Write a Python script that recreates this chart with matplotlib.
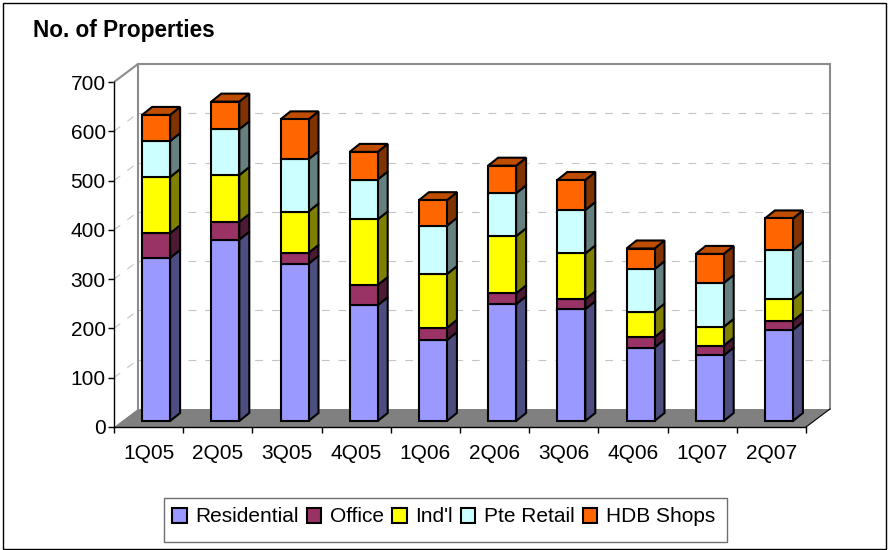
import matplotlib
matplotlib.use("Agg")
import matplotlib.pyplot as plt
from matplotlib.patches import Rectangle, Patch

plt.rcParams['font.family'] = ['Liberation Sans', 'DejaVu Sans']

quarters = ["1Q05", "2Q05", "3Q05", "4Q05", "1Q06", "2Q06", "3Q06", "4Q06", "1Q07", "2Q07"]
residential = [331, 368, 319, 235, 164, 237, 227, 149, 133, 185]
office = [50, 36, 22, 41, 25, 22, 20, 21, 20, 18]
industrial = [114, 95, 84, 133, 109, 116, 93, 52, 38, 44]
pte_retail = [73, 93, 106, 81, 98, 87, 88, 86, 89, 100]
hdb_shops = [53, 56, 81, 56, 52, 56, 61, 42, 59, 64]
series_names = ["Residential", "Office", "Ind'l", "Pte Retail", "HDB Shops"]
series_values = [residential, office, industrial, pte_retail, hdb_shops]
front_colors = ["#9999FF", "#993366", "#FFFF00", "#CCFFFF", "#FF6600"]
side_colors = ["#4D4D80", "#4D1A33", "#808000", "#668080", "#803300"]
top_colors = ["#7373BF", "#73264D", "#BFBF00", "#99BFBF", "#BF4D00"]
y_ticks = [0, 100, 200, 300, 400, 500, 600, 700]

W, H = 888, 550
fig = plt.figure(figsize=(W / 100, H / 100), dpi=100)
fig.add_artist(Rectangle((3 / W, 1 - 548.5 / H), 883 / W, 545.5 / H, transform=fig.transFigure,
                         fill=False, ec="black", lw=1.0))
fig.add_artist(Rectangle((164 / W, 1 - 541.5 / H), 563 / W, 43.5 / H, transform=fig.transFigure,
                         fill=False, ec="#707070", lw=1.0))

L, R, T, B = 114, 806, 82, 427
ax = fig.add_axes([L / W, 1 - B / H, (R - L) / W, (B - T) / H])
ax.set_xlim(0, len(quarters))
ax.set_ylim(0, 700)
ax.patch.set_visible(False)

px_x = (R - L) / len(quarters)      # pixels per category
px_y = (B - T) / 700                # pixels per value unit


def proj(cat, val, dx_px, dy_px):
    """Oblique projection: offset a data point by a depth given in pixels."""
    return cat + dx_px / px_x, val + dy_px / px_y


# walls and floor
wall_dx, wall_dy = 24, 18
p0 = proj(0, 0, wall_dx, wall_dy)
p1 = proj(10, 0, wall_dx, wall_dy)
ax.fill([0, 10, p1[0], p0[0]], [0, 0, p1[1], p0[1]], color="#808080", lw=0, zorder=1, clip_on=False)
grid_kw = dict(color="#C4C4C4", lw=0.8, ls=(0, (7, 8)), zorder=1.5, clip_on=False)
for v in y_ticks[1:-1]:
    a = proj(0, v, wall_dx, wall_dy)
    b = proj(10, v, wall_dx, wall_dy)
    ax.plot([a[0], b[0]], [a[1], b[1]], **grid_kw)
    ax.plot([0, a[0]], [v, a[1]], **grid_kw)
tl = proj(0, 700, wall_dx, wall_dy)
tr = proj(10, 700, wall_dx, wall_dy)
ax.plot([0, tl[0], p0[0]], [700, tl[1], p0[1]], color="#8C8C8C", lw=1.5, zorder=2, clip_on=False, solid_joinstyle="miter")
ax.plot([tl[0], tr[0], p1[0]], [tl[1], tr[1], p1[1]], color="#8C8C8C", lw=1.5, zorder=2, clip_on=False, solid_joinstyle="miter")
ax.plot([10, p1[0]], [0, p1[1]], color="black", lw=0.8, zorder=2, clip_on=False)

# stacked oblique bars
bar_w = 28 / px_x
bx, by = 7.5, 6     # offset of bar front from the axis plane, pixels
dx, dy = 10, 8      # bar depth, pixels
edge = dict(ec="black", lw=1.5, joinstyle="miter")
for i in range(len(quarters)):
    base = 0
    x_c = i + 0.5
    for s, vals in enumerate(series_values):
        h = vals[i]
        fx, fy = proj(x_c, base, bx, by)
        ax.bar(fx, h, bar_w, bottom=fy, color=front_colors[s], zorder=4, clip_on=False, **edge)
        x1 = fx + bar_w / 2
        a = proj(x1, fy, dx, dy)
        b = proj(x1, fy + h, dx, dy)
        ax.fill([x1, a[0], b[0], x1], [fy, a[1], b[1], fy + h], fc=side_colors[s], zorder=3.5, clip_on=False, **edge)
        if s == len(series_values) - 1:
            x0 = fx - bar_w / 2
            c = proj(x0, fy + h, dx, dy)
            ax.fill([x0, x1, b[0], c[0]], [fy + h, fy + h, b[1], c[1]], fc=top_colors[s], zorder=3.5, clip_on=False, **edge)
        base += h

# axes
for sp in ("top", "right"):
    ax.spines[sp].set_visible(False)
for sp in ("left", "bottom"):
    ax.spines[sp].set_linewidth(1.0)
    ax.spines[sp].set_zorder(3)
ax.set_yticks(y_ticks)
ax.tick_params(axis="y", length=4, width=1.0, pad=2, labelsize=15)
ax.set_xticks(range(len(quarters) + 1))
ax.set_xticklabels([])
ax.set_xticks([i + 0.5 for i in range(len(quarters))], minor=True)
ax.set_xticklabels(quarters, minor=True)
ax.tick_params(axis="x", which="major", length=4.5, width=1.0)
ax.tick_params(axis="x", which="minor", length=0, pad=12, labelsize=15)

fig.text(33 / W, 1 - 30.5 / H, "No. of Properties", fontsize=16.3, fontweight="bold", va="center", ha="left")

handles = [Patch(fc=c, ec="black", lw=1.5) for c in front_colors]
fig.legend(handles, series_names, ncol=5, loc="center", bbox_to_anchor=(443.5 / W, 1 - 517 / H),
           fontsize=15, frameon=False,
           handlelength=0.7, handleheight=0.7, handletextpad=0.4, columnspacing=0.4,
           borderpad=0.55, borderaxespad=0)

fig.savefig("out.png", dpi=100)
